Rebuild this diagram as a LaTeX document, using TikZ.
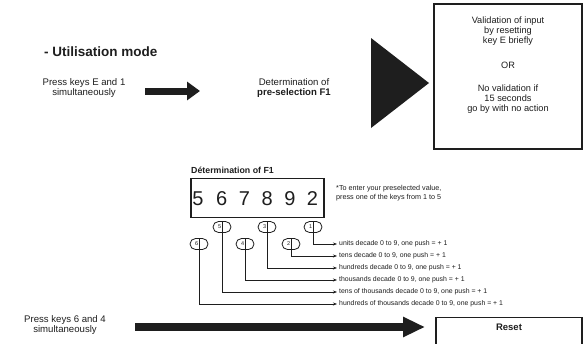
\documentclass[tikz,border=0pt]{standalone}
\usepackage{fontspec}
\setmainfont{Liberation Sans}
\usetikzlibrary{arrows.meta}
\definecolor{ink}{HTML}{1E1E1E}
\begin{document}
\begin{tikzpicture}[x=1pt,y=-1pt,
  txt/.style={inner sep=0pt, text=ink, align=center, font=\fontsize{9.6}{10.5}\selectfont},
  boxtxt/.style={inner sep=0pt, text=ink, align=center, font=\fontsize{9.2}{10.2}\selectfont},
  small/.style={inner sep=0pt, text=ink, align=left, font=\fontsize{7.2}{9.5}\selectfont},
  flabel/.style={anchor=west, inner xsep=2pt, inner ysep=0pt, text=ink, font=\fontsize{6.9}{7}\selectfont},
  digit/.style={inner sep=0pt, text=ink, font=\fontsize{20}{20}\selectfont},
  keycap/.style={draw=ink, line width=0.8pt, minimum width=18pt, minimum height=11pt, rounded corners=5.5pt, inner sep=0pt, text=ink, font=\fontsize{5.5}{5.5}\selectfont},
  frame/.style={draw=ink, line width=1.1pt, inner sep=0pt},
  conn/.style={draw=ink, line width=0.8pt, -{Stealth[length=4pt,width=3pt]}},
  bigarrow/.style={draw=ink, line width=7pt, -{Triangle[length=13pt,width=18pt]}},
  hugearrow/.style={draw=ink, line width=8pt, -{Triangle[length=22pt,width=19pt]}}]
\useasboundingbox (0,0) rectangle (588,343);
\fill[white] (0,0) rectangle (588,343);

% top row
\node[inner sep=0pt, anchor=west, text=ink, font=\bfseries\fontsize{13.5}{13.5}\selectfont] (title) at (44,52) {- Utilisation mode};
\node[txt] (press1) at (84,88) {Press keys E and 1\\simultaneously};
\coordinate (a1s) at (145,91);
\coordinate (a1e) at (200,91);
\draw[bigarrow] (a1s) -- (a1e);
\node[txt] (det) at (294,88) {Determination of\\\textbf{pre-selection F1}};
\fill[ink] (371,38) -- (371,128) -- (429,83) -- cycle;

\node[frame, minimum width=148pt, minimum height=145pt] (valbox) at (508,76.5) {};
\node[boxtxt] (v1) at (508,31) {Validation of input\\by resetting\\key E briefly};
\node[boxtxt] (or) at (508,65) {OR};
\node[boxtxt] (v2) at (508,99) {No validation if\\15 seconds\\go by with no action};

% digits
\node[inner sep=0pt, anchor=south west, text=ink, font=\bfseries\fontsize{8.8}{8.8}\selectfont] (dlabel) at (191,174) {Détermination of F1};
\node[frame, minimum width=133pt, minimum height=39pt] (dbox) at (257.5,198) {};
\node[digit] (d5) at (198,199) {5};
\node[digit] (d6) at (221.7,199) {6};
\node[digit] (d7) at (244.5,199) {7};
\node[digit] (d8) at (267.2,199) {8};
\node[digit] (d9) at (290,199) {9};
\node[digit] (d2) at (312.5,199) {2};
\node[small, anchor=west] (hint) at (336,193) {*To enter your preselected value,\\press one of the keys from 1 to 5};

% keys
\node[keycap] (k5) at (222,227) {\makebox[8pt][l]{5}};
\node[keycap] (k3) at (267,227) {\makebox[8pt][l]{3}};
\node[keycap] (k1) at (313,227) {\makebox[8pt][l]{1}};
\node[keycap] (k6) at (199,244) {\makebox[8pt][l]{6}};
\node[keycap] (k4) at (245,244) {\makebox[8pt][l]{4}};
\node[keycap] (k2) at (291,244) {\makebox[8pt][l]{2}};

% function labels
\node[flabel] (l1) at (337,244) {units decade 0 to 9, one push = + 1};
\node[flabel] (l2) at (337,256) {tens decade 0 to 9, one push = + 1};
\node[flabel] (l3) at (337,268) {hundreds decade 0 to 9, one push = + 1};
\node[flabel] (l4) at (337,280) {thousands decade 0 to 9, one push = + 1};
\node[flabel] (l5) at (337,292) {tens of thousands decade 0 to 9, one push = + 1};
\node[flabel] (l6) at (337,304) {hundreds of thousands decade 0 to 9, one push = + 1};

\draw[conn] (k1.north) |- (l1.west);
\draw[conn] (k2.north) |- (l2.west);
\draw[conn] (k3.north) |- (l3.west);
\draw[conn] (k4.north) |- (l4.west);
\draw[conn] (k5.north) |- (l5.west);
\draw[conn] (k6.north) |- (l6.west);

% bottom row
\node[txt] (press2) at (65,325) {Press keys 6 and 4\\simultaneously};
\coordinate (a2s) at (135,327);
\coordinate (a2e) at (425,327);
\draw[hugearrow] (a2s) -- (a2e);
\node[frame, minimum width=146pt, minimum height=28pt, anchor=north] (reset) at (509,317) {};
\node[inner sep=0pt, text=ink, font=\bfseries\fontsize{9.5}{9.5}\selectfont] (resettxt) at (509,327) {Reset};
\end{tikzpicture}
\end{document}
